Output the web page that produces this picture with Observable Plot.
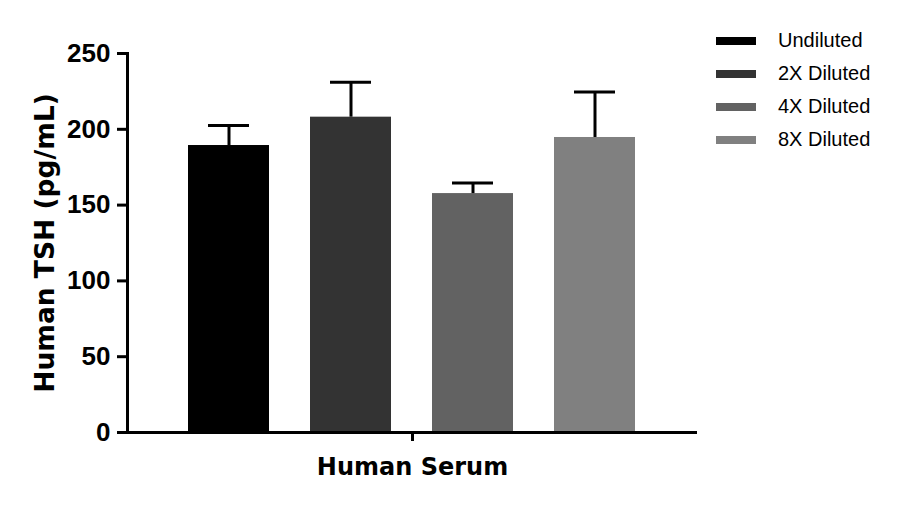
<!DOCTYPE html>
<html>
<head>
<meta charset="utf-8">
<script src="https://cdn.jsdelivr.net/npm/d3@7"></script>
<script src="https://cdn.jsdelivr.net/npm/@observablehq/plot@0.6"></script>
<style>
  html, body { margin: 0; padding: 0; background: #fff; }
  #wrap { position: relative; width: 899px; height: 507px; }
  #legend { position: absolute; left: 716px; top: 24px; font-family: "Liberation Sans", Arial, sans-serif; font-size: 20px; color: #000; }
  .row { display: flex; align-items: center; height: 33px; }
  .sw { width: 40px; height: 8px; margin-right: 22px; }
</style>
</head>
<body>
<div id="wrap"><div id="legend"></div></div>
<script>
const groups = ["Human Serum"];
const series = ["Undiluted", "2X Diluted", "4X Diluted", "8X Diluted"];
const means = [189.3, 208, 157.6, 194.6];
const sds = [13.2, 23, 7, 30];
const colors = ["#000000", "#333333", "#626262", "#808080"];
const yTicks = [0, 50, 100, 150, 200, 250];

const data = series.map((s, i) => ({group: groups[0], series: s, mean: means[i], top: means[i] + sds[i]}));

const font = "'DejaVu Sans', sans-serif";
const chart = Plot.plot({
  width: 899,
  height: 507,
  marginLeft: 127,
  marginRight: 202,
  marginTop: 53,
  marginBottom: 75,
  style: {fontFamily: font, background: "transparent"},
  fx: {domain: groups, padding: 0, label: null},
  x: {domain: series, paddingInner: 0.335, paddingOuter: 0.5, axis: null},
  y: {domain: [0, 250], label: null},
  color: {domain: series, range: colors},
  marks: [
    Plot.barY(data, {fx: "group", x: "series", y: "mean", fill: "series"}),
    Plot.ruleX(data, {fx: "group", x: "series", y1: "mean", y2: "top", stroke: "#000", strokeWidth: 3}),
    Plot.tickY(data, {fx: "group", x: "series", y: "top", stroke: "#000", strokeWidth: 3, insetLeft: 20, insetRight: 20}),
    Plot.ruleY([0], {stroke: "#000", strokeWidth: 3}),
    Plot.frame({anchor: "left", stroke: "#000", strokeWidth: 3}),
    Plot.axisY({ticks: yTicks, tickSize: 10, tickPadding: 7, strokeWidth: 3, fontFamily: "'Liberation Sans', Arial, sans-serif", fontSize: 26, fontWeight: "bold", label: null}),
    Plot.axisFx({anchor: "bottom", tickSize: 9, tickPadding: 16, strokeWidth: 3, fontSize: 24, fontWeight: "bold", label: null}),
    Plot.text(["Human TSH (pg/mL)"], {frameAnchor: "left", textAnchor: "middle", rotate: -90, dx: -82, fontSize: 26.5, fontWeight: "bold", fill: "#000"})
  ]
});
document.getElementById("wrap").prepend(chart);

const legend = document.getElementById("legend");
series.forEach((s, i) => {
  const row = document.createElement("div");
  row.className = "row";
  const sw = document.createElement("div");
  sw.className = "sw";
  sw.style.background = colors[i];
  const t = document.createElement("span");
  t.textContent = s;
  row.append(sw, t);
  legend.append(row);
});
</script>
</body>
</html>
